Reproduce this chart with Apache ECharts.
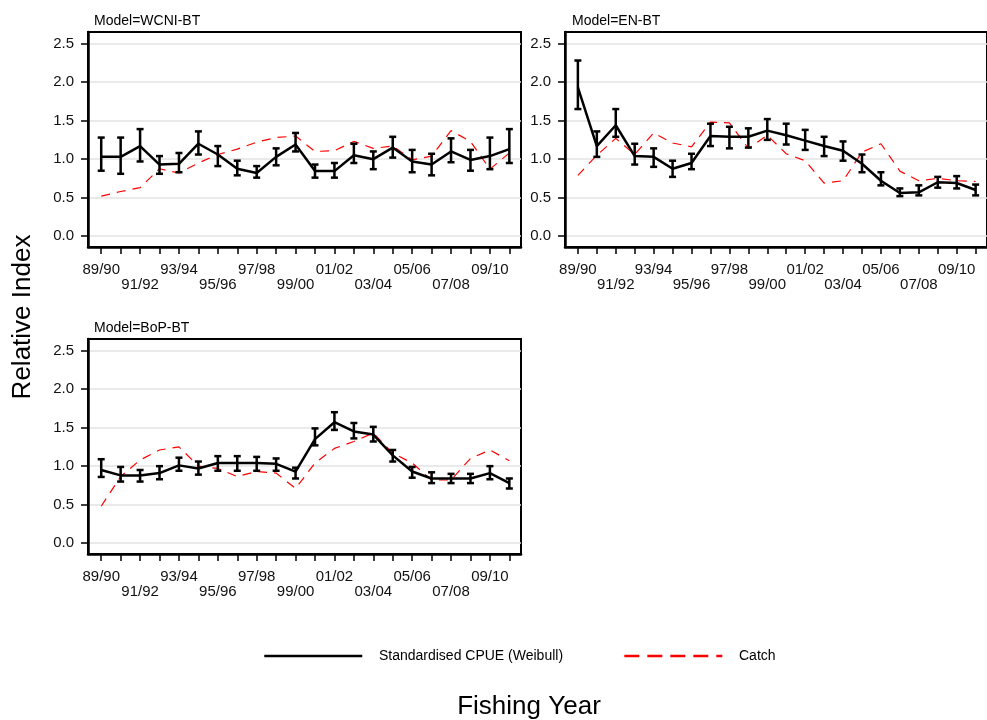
<!DOCTYPE html>
<html><head><meta charset="utf-8">
<script src="https://cdn.jsdelivr.net/npm/echarts@6/dist/echarts.min.js"></script>
<style>html,body{margin:0;padding:0;background:#fff}#c{width:987px;height:720px}</style>
</head><body><div id="c"></div>
<script>
const years = ['89/90','90/91','91/92','92/93','93/94','94/95','95/96','96/97','97/98','98/99','99/00','00/01','01/02','02/03','03/04','04/05','05/06','06/07','07/08','08/09','09/10','10/11'];
const yTicks = [0, 0.5, 1.0, 1.5, 2.0, 2.5];
const models = ['Model=WCNI-BT', 'Model=EN-BT', 'Model=BoP-BT'];

const cpueWCNI = [1.03,1.03,1.17,0.93,0.94,1.20,1.06,0.875,0.82,1.03,1.19,0.845,0.845,1.05,1.00,1.15,0.97,0.93,1.10,0.99,1.04,1.13];
const loWCNI   = [0.85,0.81,0.97,0.81,0.83,1.06,0.91,0.79,0.76,0.92,1.10,0.76,0.76,0.95,0.87,1.02,0.83,0.79,0.96,0.85,0.87,0.95];
const hiWCNI   = [1.28,1.28,1.39,1.04,1.08,1.36,1.17,0.98,0.91,1.14,1.34,0.93,0.95,1.20,1.10,1.29,1.12,1.07,1.27,1.12,1.28,1.39];
const catchWCNI= [0.52,0.58,0.63,0.875,0.82,0.95,1.06,1.13,1.22,1.28,1.30,1.10,1.11,1.23,1.14,1.17,0.99,1.04,1.37,1.23,0.87,1.08];

const cpueEN = [1.93,1.17,1.44,1.04,1.03,0.875,0.95,1.30,1.29,1.29,1.37,1.31,1.24,1.17,1.11,0.94,0.72,0.56,0.57,0.70,0.69,0.60];
const loEN   = [1.65,1.03,1.29,0.93,0.90,0.77,0.87,1.17,1.14,1.15,1.25,1.19,1.12,1.04,0.98,0.83,0.66,0.52,0.53,0.63,0.62,0.53];
const hiEN   = [2.28,1.36,1.65,1.20,1.14,0.98,1.07,1.46,1.42,1.40,1.52,1.46,1.38,1.29,1.23,1.06,0.83,0.62,0.66,0.77,0.78,0.67];
const catchEN= [0.79,1.05,1.27,1.06,1.34,1.21,1.16,1.48,1.47,1.14,1.31,1.07,0.98,0.69,0.72,1.09,1.20,0.845,0.72,0.75,0.72,0.71];

const cpueBoP = [0.95,0.88,0.88,0.91,1.01,0.97,1.04,1.04,1.04,1.03,0.93,1.35,1.57,1.45,1.41,1.14,0.93,0.84,0.84,0.84,0.91,0.78];
const loBoP   = [0.86,0.80,0.80,0.83,0.94,0.89,0.94,0.94,0.94,0.94,0.84,1.27,1.47,1.36,1.32,1.06,0.85,0.78,0.78,0.78,0.83,0.71];
const hiBoP   = [1.09,0.99,0.95,1.00,1.11,1.06,1.13,1.13,1.12,1.10,0.98,1.49,1.70,1.56,1.51,1.21,0.99,0.92,0.90,0.90,1.00,0.84];
const catchBoP= [0.48,0.865,1.08,1.21,1.25,1.00,0.97,0.865,0.93,0.91,0.71,1.04,1.23,1.32,1.43,1.17,1.04,0.82,0.82,1.10,1.21,1.07];

const panels = [
  {cpue: cpueWCNI, lo: loWCNI, hi: hiWCNI, cat: catchWCNI},
  {cpue: cpueEN, lo: loEN, hi: hiEN, cat: catchEN},
  {cpue: cpueBoP, lo: loBoP, hi: hiBoP, cat: catchBoP}
];

const FONT = '"Liberation Sans", Arial, sans-serif';
const grids = [
  {left: 88, top: 32, width: 433, height: 215},
  {left: 565, top: 32, width: 433, height: 215},
  {left: 88, top: 339, width: 433, height: 215}
];
const xIdx = years.map((_, i) => i);
const xLab = xIdx.filter(i => i % 2 === 0);
const titleStyle = {fontSize: 14, fontWeight: 'normal', color: '#000', fontFamily: FONT};

const option = {
  animation: false,
  backgroundColor: '#fff',
  textStyle: {fontFamily: FONT},
  title: [
    {text: models[0], left: 89, top: 9, textStyle: titleStyle},
    {text: models[1], left: 567, top: 9, textStyle: titleStyle},
    {text: models[2], left: 89, top: 316, textStyle: titleStyle},
    {text: 'Fishing Year', left: 524, top: 689, textAlign: 'center', textStyle: {fontSize: 26, fontWeight: 'normal', color: '#000', fontFamily: FONT}}
  ],
  graphic: [{
    type: 'text', x: 10, y: 317, rotation: Math.PI / 2,
    style: {text: 'Relative Index', fill: '#000', font: '26px ' + FONT, textAlign: 'center', textVerticalAlign: 'top'}
  }],
  legend: {
    left: 258, top: 644, itemWidth: 98, itemHeight: 14, itemGap: 60,
    itemStyle: {opacity: 0},
    formatter: name => '   ' + name,
    textStyle: {fontSize: 14, color: '#000', fontFamily: FONT},
    data: [
      {name: 'Standardised CPUE (Weibull)', lineStyle: {width: 2.5, color: '#000'}},
      {name: 'Catch', lineStyle: {width: 2.5, type: [15, 8], color: '#ff0000'}}
    ]
  },
  grid: grids.map(g => Object.assign({show: true, borderColor: '#000', borderWidth: 2, backgroundColor: 'transparent'}, g)),
  xAxis: grids.map((g, k) => ({
    type: 'value', gridIndex: k, min: -0.68, max: 21.6,
    axisLine: {show: true, onZero: false, lineStyle: {color: '#000', width: 2.5}},
    axisTick: {show: true, customValues: xIdx, length: 7, lineStyle: {color: '#000', width: 1.5}},
    axisLabel: {customValues: xLab, margin: 15, fontSize: 15, color: '#111', lineHeight: 15, fontFamily: FONT,
      formatter: v => { const i = Math.round(v); return i % 4 === 0 ? years[i] : '\n' + years[i]; }},
    splitLine: {show: false}
  })),
  yAxis: grids.map((g, k) => ({
    type: 'value', gridIndex: k, min: -0.14, max: 2.65,
    axisLine: {show: true, onZero: false, lineStyle: {color: '#000', width: 2.5}},
    axisTick: {show: true, customValues: yTicks, length: 7, lineStyle: {color: '#000', width: 1.5}},
    axisLabel: {customValues: yTicks, margin: 14, fontSize: 15, color: '#111', fontFamily: FONT, formatter: v => v.toFixed(1)},
    splitLine: {show: true, lineStyle: {color: '#e3e3e3', width: 1.5}}
  })),
  series: []
};

panels.forEach((p, k) => {
  option.series.push({
    name: 'Catch', type: 'line', xAxisIndex: k, yAxisIndex: k, symbol: 'none',
    data: p.cat.map((v, i) => [i, v]),
    lineStyle: {color: '#ff0000', width: 1.2, type: [9, 7]}, itemStyle: {color: '#ff0000'}, z: 2
  });
  option.series.push({
    name: 'Standardised CPUE (Weibull)', type: 'line', xAxisIndex: k, yAxisIndex: k, symbol: 'none',
    data: p.cpue.map((v, i) => [i, v]),
    lineStyle: {color: '#000', width: 2.5}, itemStyle: {color: '#000'}, z: 3
  });
  option.series.push({
    name: 'Standardised CPUE (Weibull)', type: 'custom', xAxisIndex: k, yAxisIndex: k,
    data: p.lo.map((v, i) => [i, v, p.hi[i]]),
    z: 4, clip: false,
    renderItem: (params, api) => {
      const a = api.coord([api.value(0), api.value(1)]);
      const b = api.coord([api.value(0), api.value(2)]);
      const w = 3.5;
      const st = {stroke: '#000', lineWidth: 2.5, fill: null};
      return {type: 'group', children: [
        {type: 'line', shape: {x1: a[0], y1: a[1], x2: b[0], y2: b[1]}, style: st},
        {type: 'line', shape: {x1: a[0] - w, y1: a[1], x2: a[0] + w, y2: a[1]}, style: st},
        {type: 'line', shape: {x1: b[0] - w, y1: b[1], x2: b[0] + w, y2: b[1]}, style: st}
      ]};
    }
  });
});

const chart = echarts.init(document.getElementById('c'), null, {renderer: 'canvas'});
chart.setOption(option);
</script></body></html>
